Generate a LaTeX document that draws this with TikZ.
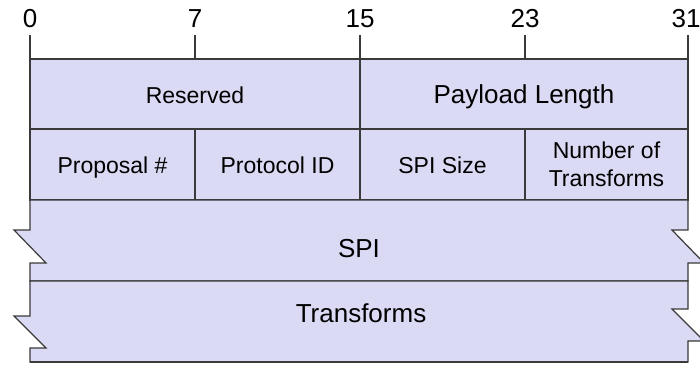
\documentclass[tikz,border=0pt]{standalone}
\usepackage{fontspec}
\setmainfont{Liberation Sans}
\usetikzlibrary{positioning,calc}
\definecolor{cField}{HTML}{DADAF4}
\definecolor{cLine}{HTML}{3A3A3A}
\tikzset{
  fieldbase/.style={draw=cLine, line width=1.2pt, fill=cField, inner sep=0pt,
                align=center, font=\fontsize{23}{28}\selectfont},
  field/.style={fieldbase, text height=17pt, text depth=0pt},
  toprow/.style={fieldbase, minimum height=70pt, text height=19pt, text depth=0pt},
  bigtext/.style={font=\fontsize{26}{30}\selectfont},
  bitlbl/.style={inner sep=0pt, anchor=south, font=\fontsize{26}{30}\selectfont},
  tick/.style={draw=cLine, line width=1.1pt},
  brk/.style={draw=cLine, line width=1.2pt, fill=cField, line join=miter},
}

\begin{document}
\begin{tikzpicture}[x=1pt,y=-1pt]
\useasboundingbox (0,0) rectangle (700,364);
% bit positions
\foreach \bit/\xpos in {0/30,7/195,15/360,23/525,31/686}{
  \node[bitlbl] (lbl\bit) at (\xpos,28) {\bit};
}
% first row
\node[toprow, minimum width=330pt] (reserved) at (195,94) {Reserved};
\node[toprow, bigtext, minimum width=328pt] (paylen) at (524,94) {Payload Length};
% second row
\node[field, minimum width=165pt, minimum height=71pt] (propno) at (112.5,164.5) {Proposal \#};
\node[field, minimum width=165pt, minimum height=71pt] (protoid) at (277.5,164.5) {Protocol ID};
\node[field, minimum width=165pt, minimum height=71pt] (spisize) at (442.5,164.5) {SPI Size};
\node[fieldbase, minimum width=163pt, minimum height=71pt] (numtr) at (606.5,164.5) {Number of\\Transforms};
\foreach \bit/\xpos in {0/30,7/195,15/360,23/525,31/688}{
  \draw[tick] (\xpos,35) -- (\xpos,0 |- reserved.north);
}
% variable length rows with break marks
\draw[brk] (30,200) -- (688,200) -- (688,230) -- (672,230) -- (704,263) -- (688,263) -- (688,281)
  -- (30,281) -- (30,263) -- (46,263) -- (14,230) -- (30,230) -- cycle;
\node[bigtext, anchor=base] (spi) at (359,257) {SPI};
\draw[brk] (30,281) -- (688,281) -- (688,309) -- (672,309) -- (704,341) -- (688,341) -- (688,362)
  -- (30,362) -- (30,348) -- (46,348) -- (14,316) -- (30,316) -- cycle;
\draw[draw=cLine, line width=1.6pt] (30,362) -- (688,362);
\node[bigtext, anchor=base] (transf) at (361,322) {Transforms};
\end{tikzpicture}
\end{document}
